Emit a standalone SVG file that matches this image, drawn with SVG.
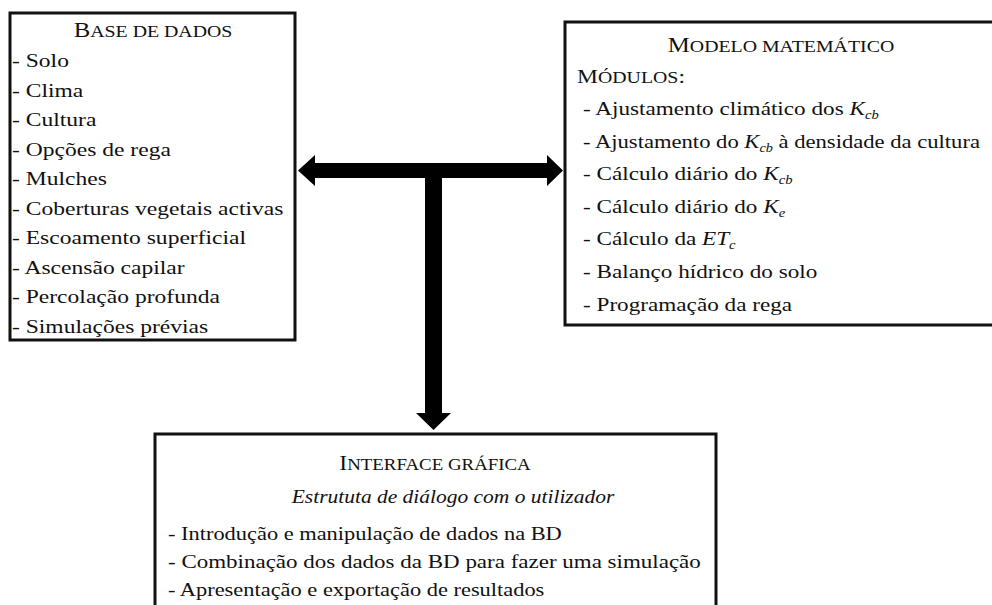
<svg xmlns="http://www.w3.org/2000/svg" width="992" height="605" viewBox="0 0 992 605">
<defs>
<style>
.box{fill:#fff;stroke:#111;stroke-width:3}
.t{font-family:'Liberation Serif','DejaVu Serif',serif;font-size:19px;fill:#111}
.cap{font-size:20px}
.sc{font-size:16px}
.it{font-style:italic}
.sub{font-style:italic;font-size:12px}
.arr{fill:#000}
</style>
</defs>
<rect width="992" height="605" fill="#fff"/>
<g id="base-de-dados" class="t" font-family="Liberation Serif, DejaVu Serif, serif">
<rect class="box" x="10" y="13" width="285" height="327"/>
<text class="cap" transform="translate(153 37) scale(1.24 1)" text-anchor="middle">B<tspan class="sc">ASE DE DADOS</tspan></text>
<text transform="translate(12 67) scale(1.24 1)">- Solo</text>
<text transform="translate(12 96.5) scale(1.24 1)">- Clima</text>
<text transform="translate(12 126) scale(1.24 1)">- Cultura</text>
<text transform="translate(12 155.5) scale(1.24 1)">- Opções de rega</text>
<text transform="translate(12 185) scale(1.24 1)">- Mulches</text>
<text transform="translate(12 214.5) scale(1.24 1)">- Coberturas vegetais activas</text>
<text transform="translate(12 244) scale(1.24 1)">- Escoamento superficial</text>
<text transform="translate(12 273.5) scale(1.24 1)">- Ascensão capilar</text>
<text transform="translate(12 303) scale(1.24 1)">- Percolação profunda</text>
<text transform="translate(12 332.5) scale(1.24 1)">- Simulações prévias</text>
</g>
<g id="modelo-matematico" class="t" font-family="Liberation Serif, DejaVu Serif, serif">
<rect class="box" x="565" y="22" width="435" height="303"/>
<text class="cap" transform="translate(781 52) scale(1.24 1)" text-anchor="middle">M<tspan class="sc">ODELO MATEMÁTICO</tspan></text>
<text transform="translate(577 83) scale(1.24 1)">M<tspan class="sc">ÓDULOS</tspan>:</text>
<text transform="translate(583 115) scale(1.22 1)">- Ajustamento climático dos <tspan class="it">K</tspan><tspan class="sub" dy="4">cb</tspan></text>
<text transform="translate(583 148) scale(1.19 1)">- Ajustamento do <tspan class="it">K</tspan><tspan class="sub" dy="4">cb</tspan><tspan dy="-4"> à densidade da cultura</tspan></text>
<text transform="translate(583 180) scale(1.22 1)">- Cálculo diário do <tspan class="it">K</tspan><tspan class="sub" dy="4">cb</tspan></text>
<text transform="translate(583 213) scale(1.22 1)">- Cálculo diário do <tspan class="it">K</tspan><tspan class="sub" dy="4">e</tspan></text>
<text transform="translate(583 245) scale(1.22 1)">- Cálculo da <tspan class="it">ET</tspan><tspan class="sub" dy="4">c</tspan></text>
<text transform="translate(583 278) scale(1.22 1)">- Balanço hídrico do solo</text>
<text transform="translate(583 311) scale(1.22 1)">- Programação da rega</text>
</g>
<g id="interface-grafica" class="t" font-family="Liberation Serif, DejaVu Serif, serif">
<rect class="box" x="155" y="434" width="561" height="190"/>
<text class="cap" transform="translate(435 470) scale(1.18 1)" text-anchor="middle">I<tspan class="sc">NTERFACE GRÁFICA</tspan></text>
<text class="it" transform="translate(453 503) scale(1.13 1)" text-anchor="middle">Estrututa de diálogo com o utilizador</text>
<text transform="translate(168 540) scale(1.18 1)">- Introdução e manipulação de dados na BD</text>
<text transform="translate(168 568) scale(1.21 1)">- Combinação dos dados da BD para fazer uma simulação</text>
<text transform="translate(168 596) scale(1.18 1)">- Apresentação e exportação de resultados</text>
</g>
<g id="connectors">
<polygon class="arr" points="298,170.5 315,155 315,163 547,163 547,155 563,170.5 547,186 547,178 315,178 315,186"/>
<polygon class="arr" points="425,178 442,178 442,413 451,413 433.5,430 416,413 425,413"/>
</g>
</svg>
